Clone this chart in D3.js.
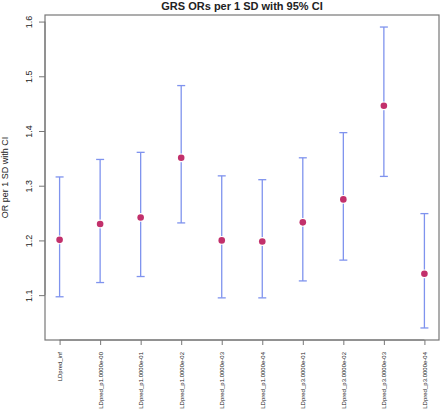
<!DOCTYPE html>
<html><head><meta charset="utf-8">
<script src="https://cdn.jsdelivr.net/npm/d3@7"></script>
<style>body{margin:0;background:#fff}svg{display:block}text{font-family:"Liberation Sans",Arial,sans-serif}</style>
</head><body>
<script>
const categories = ["LDpred_inf","LDpred_p1.0000e-00","LDpred_p1.0000e-01","LDpred_p1.0000e-02","LDpred_p1.0000e-03","LDpred_p1.0000e-04","LDpred_p3.0000e-01","LDpred_p3.0000e-02","LDpred_p3.0000e-03","LDpred_p3.0000e-04"];
const orValues = [1.201,1.230,1.242,1.351,1.200,1.198,1.233,1.275,1.446,1.139];
const ciLower  = [1.097,1.123,1.134,1.232,1.095,1.095,1.126,1.164,1.317,1.040];
const ciUpper  = [1.316,1.348,1.361,1.483,1.318,1.311,1.351,1.397,1.590,1.249];
const yTicks = [1.1,1.2,1.3,1.4,1.5,1.6];

const W=440,H=412;
const box={left:45,right:439,top:15,bottom:340};
const svg=d3.select("body").append("svg").attr("width",W).attr("height",H);

const ymin=d3.min(ciLower), ymax=d3.max(ciUpper), pad=(ymax-ymin)*0.04;
const y=d3.scaleLinear().domain([ymin-pad,ymax+pad]).range([box.bottom,box.top]);
const n=categories.length, xp=(n-1)*0.04;
const x=d3.scaleLinear().domain([1-xp,n+xp]).range([box.left,box.right]);

// box
svg.append("rect").attr("x",box.left).attr("y",box.top).attr("width",box.right-box.left).attr("height",box.bottom-box.top)
  .attr("fill","none").attr("stroke","#777").attr("stroke-width",1.2);

// y axis
const ya=svg.append("g").attr("transform",`translate(${box.left},0)`)
  .call(d3.axisLeft(y).tickValues(yTicks).tickSize(6).tickFormat(d3.format(".1f")));
ya.select(".domain").attr("stroke","#777").attr("d",`M0,${y(1.1)}V${y(1.6)}`);
ya.selectAll(".tick line").attr("stroke","#777");
ya.selectAll(".tick text").attr("font-size",9).attr("fill","#222")
  .attr("text-anchor","middle").attr("dy",null).attr("x",null)
  .attr("transform","translate(-13,0) rotate(-90)").attr("y",0);

// x axis
const xa=svg.append("g").attr("transform",`translate(0,${box.bottom})`)
  .call(d3.axisBottom(x).tickValues(d3.range(1,n+1)).tickSize(5).tickFormat(i=>categories[i-1]));
xa.select(".domain").attr("stroke","#777").attr("d",`M${x(1)},0H${x(n)}`);
xa.selectAll(".tick line").attr("stroke","#777");
xa.selectAll(".tick text").attr("font-size",6).attr("fill","#222")
  .attr("text-anchor","end").attr("dy","0.35em").attr("y",0)
  .attr("transform","translate(0,12) rotate(-90)");

// error bars
const cap=4;
const g=svg.append("g");
categories.forEach((c,i)=>{
  const cx=x(i+1);
  g.append("line").attr("x1",cx).attr("x2",cx).attr("y1",y(ciLower[i])).attr("y2",y(ciUpper[i]))
    .attr("stroke","#7f93ee").attr("stroke-width",1.3);
  [ciLower[i],ciUpper[i]].forEach(v=>g.append("line").attr("x1",cx-cap).attr("x2",cx+cap).attr("y1",y(v)).attr("y2",y(v))
    .attr("stroke","#7f93ee").attr("stroke-width",1.3));
});
g.selectAll("circle").data(orValues).join("circle")
  .attr("cx",(d,i)=>x(i+1)).attr("cy",d=>y(d)).attr("r",3.3)
  .attr("fill","#c2306b").attr("stroke","#fff").attr("stroke-width",2.2);
g.selectAll("circle").clone().attr("stroke","none");

// title
svg.append("text").attr("x",(box.left+box.right)/2).attr("y",10).attr("text-anchor","middle")
  .attr("font-size",11).attr("font-weight","bold").attr("fill","#222").text("GRS ORs per 1 SD with 95% CI");
// y label
svg.append("text").attr("transform",`translate(8,${(box.top+box.bottom)/2}) rotate(-90)`)
  .attr("text-anchor","middle").attr("font-size",9).attr("fill","#222").text("OR per 1 SD with CI");
</script>
</body></html>
